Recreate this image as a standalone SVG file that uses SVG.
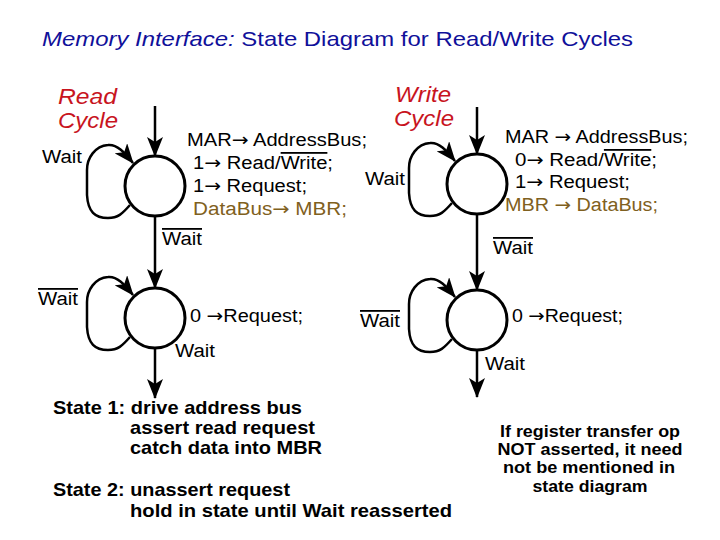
<svg xmlns="http://www.w3.org/2000/svg" width="720" height="540" viewBox="0 0 720 540">
<style>
text{font-family:"Liberation Sans",Arial,sans-serif;fill:#000}
.t{font-size:21px;fill:#10109a}
.cyc{font-size:22px;font-style:italic;fill:#c8141e}
.lb{font-size:18px}
.ar{font-family:"DejaVu Sans",sans-serif}
.gold{fill:#7f6020}
.b{font-size:18.5px;font-weight:bold}
.n{font-size:16px;font-weight:bold;text-anchor:middle}
.ov{text-decoration:overline}
.st{fill:none;stroke:#000;stroke-width:3}
.ed{fill:none;stroke:#000;stroke-width:2.5}
</style>
<defs>
<marker id="ah" viewBox="0 0 20 16" refX="19" refY="8" markerWidth="20" markerHeight="16" markerUnits="userSpaceOnUse" orient="auto">
<path d="M0,0 L20,8 L0,16 L5,8 z" fill="#000"/>
</marker>
<path id="loop" d="M-25,19 C-33,28 -37,32 -47,32 C-60,32 -67,26 -68,9 L-68,-16 C-68,-28 -60,-40 -47,-41 C-38,-42 -31,-34 -22,-23"/>
</defs>
<rect width="720" height="540" fill="#fff"/>
<text class="t" x="42" y="46" textLength="591" lengthAdjust="spacingAndGlyphs"><tspan font-style="italic">Memory Interface:</tspan> State Diagram for Read/Write Cycles</text>
<text class="cyc" x="58" y="104" textLength="59" lengthAdjust="spacingAndGlyphs">Read</text>
<text class="cyc" x="58" y="128" textLength="60" lengthAdjust="spacingAndGlyphs">Cycle</text>
<text class="cyc" x="395" y="102" textLength="56" lengthAdjust="spacingAndGlyphs">Write</text>
<text class="cyc" x="394" y="126" textLength="60" lengthAdjust="spacingAndGlyphs">Cycle</text>
<g id="connectors">
<line class="ed" x1="155" y1="106" x2="155" y2="156" marker-end="url(#ah)"/>
<line class="ed" x1="155" y1="216" x2="155" y2="288" marker-end="url(#ah)"/>
<line class="ed" x1="155" y1="349" x2="155" y2="398" marker-end="url(#ah)"/>
<line class="ed" x1="477" y1="107" x2="477" y2="154" marker-end="url(#ah)"/>
<line class="ed" x1="477" y1="214" x2="477" y2="290" marker-end="url(#ah)"/>
<line class="ed" x1="477" y1="350" x2="477" y2="397" marker-end="url(#ah)"/>
<use href="#loop" x="155" y="186" class="ed" marker-end="url(#ah)"/>
<use href="#loop" x="155" y="318" class="ed" marker-end="url(#ah)"/>
<use href="#loop" x="477" y="184" class="ed" marker-end="url(#ah)"/>
<use href="#loop" x="477" y="320" class="ed" marker-end="url(#ah)"/>
<text class="lb" x="42" y="163" textLength="40" lengthAdjust="spacingAndGlyphs">Wait</text>
<text class="lb" x="162" y="245" textLength="40" lengthAdjust="spacingAndGlyphs"><tspan class="ov">Wait</tspan></text>
<text class="lb" x="38" y="305" textLength="40" lengthAdjust="spacingAndGlyphs"><tspan class="ov">Wait</tspan></text>
<text class="lb" x="175" y="357" textLength="40" lengthAdjust="spacingAndGlyphs">Wait</text>
<text class="lb" x="365" y="185" textLength="40" lengthAdjust="spacingAndGlyphs">Wait</text>
<text class="lb" x="493" y="254" textLength="40" lengthAdjust="spacingAndGlyphs"><tspan class="ov">Wait</tspan></text>
<text class="lb" x="360" y="327" textLength="40" lengthAdjust="spacingAndGlyphs"><tspan class="ov">Wait</tspan></text>
<text class="lb" x="485" y="370" textLength="40" lengthAdjust="spacingAndGlyphs">Wait</text>
</g>
<g id="read1">
<circle class="st" cx="155" cy="186" r="30"/>
<text class="lb" x="187" y="146" textLength="180" lengthAdjust="spacingAndGlyphs">MAR<tspan class="ar">→</tspan> AddressBus;</text>
<text class="lb" x="193" y="169" textLength="140" lengthAdjust="spacingAndGlyphs">1<tspan class="ar">→</tspan> Read/<tspan class="ov">Write</tspan>;</text>
<text class="lb" x="193" y="192" textLength="114" lengthAdjust="spacingAndGlyphs">1<tspan class="ar">→</tspan> Request;</text>
<text class="lb gold" x="193" y="215" textLength="154" lengthAdjust="spacingAndGlyphs">DataBus<tspan class="ar">→</tspan>  MBR;</text>
</g>
<g id="read2">
<circle class="st" cx="155" cy="318" r="30"/>
<text class="lb" x="190" y="322" textLength="113" lengthAdjust="spacingAndGlyphs">0 <tspan class="ar">→</tspan>Request;</text>
</g>
<g id="write1">
<circle class="st" cx="477" cy="184" r="30"/>
<text class="lb" x="505" y="143" textLength="183" lengthAdjust="spacingAndGlyphs">MAR <tspan class="ar">→</tspan> AddressBus;</text>
<text class="lb" x="515" y="166" textLength="142" lengthAdjust="spacingAndGlyphs">0<tspan class="ar">→</tspan> Read/<tspan class="ov">Write</tspan>;</text>
<text class="lb" x="515" y="188" textLength="115" lengthAdjust="spacingAndGlyphs">1<tspan class="ar">→</tspan> Request;</text>
<text class="lb gold" x="505" y="211" textLength="153" lengthAdjust="spacingAndGlyphs">MBR <tspan class="ar">→</tspan> DataBus;</text>
</g>
<g id="write2">
<circle class="st" cx="477" cy="320" r="30"/>
<text class="lb" x="512" y="322" textLength="111" lengthAdjust="spacingAndGlyphs">0 <tspan class="ar">→</tspan>Request;</text>
</g>
<text class="b" x="53" y="414" textLength="249" lengthAdjust="spacingAndGlyphs">State 1: drive address bus</text>
<text class="b" x="130" y="434" textLength="185" lengthAdjust="spacingAndGlyphs">assert read request</text>
<text class="b" x="130" y="454" textLength="192" lengthAdjust="spacingAndGlyphs">catch data into MBR</text>
<text class="b" x="53" y="496" textLength="237" lengthAdjust="spacingAndGlyphs">State 2: unassert request</text>
<text class="b" x="130" y="517" textLength="322" lengthAdjust="spacingAndGlyphs">hold in state until Wait reasserted</text>
<text class="n" x="590" y="437" textLength="180" lengthAdjust="spacingAndGlyphs">If register transfer op</text>
<text class="n" x="590" y="455" textLength="185" lengthAdjust="spacingAndGlyphs">NOT asserted, it need</text>
<text class="n" x="589" y="473" textLength="172" lengthAdjust="spacingAndGlyphs">not be mentioned in</text>
<text class="n" x="590" y="492" textLength="115" lengthAdjust="spacingAndGlyphs">state diagram</text>
</svg>
